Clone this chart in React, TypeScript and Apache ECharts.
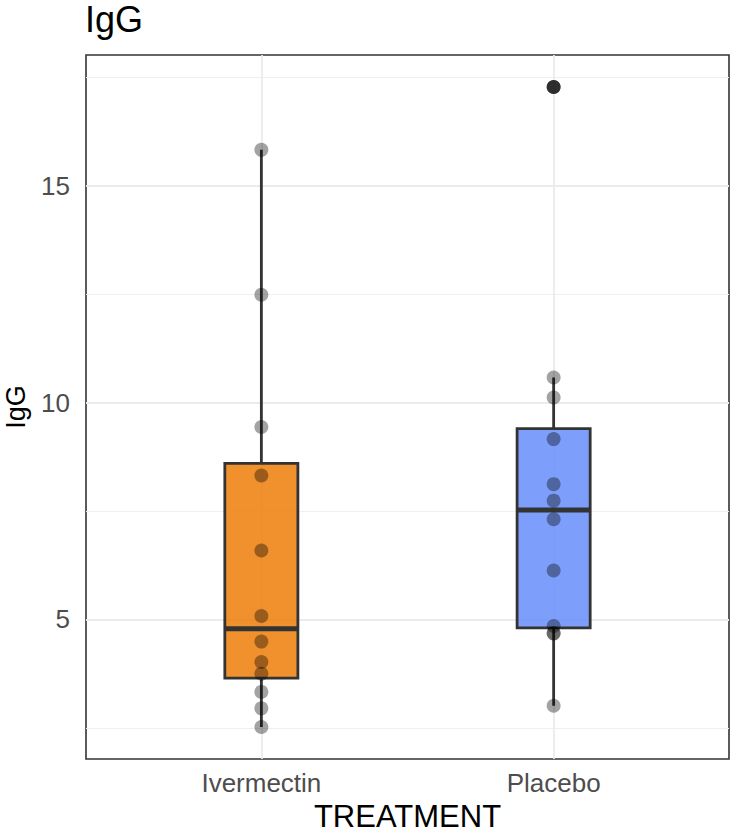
import React, { useEffect, useRef } from "react";
import * as echarts from "echarts";

const categories = ["Ivermectin", "Placebo"];
const ivermectin = [15.83, 12.49, 9.44, 8.32, 6.59, 5.08, 4.49, 4.02, 3.75, 3.33, 2.95, 2.52];
const placebo = [17.28, 10.58, 10.12, 9.16, 8.12, 7.74, 7.31, 6.13, 4.85, 4.68, 4.68, 3.01];
const majorTicks = [5, 10, 15];
const minorTicks = [2.5, 7.5, 12.5, 17.5];
const boxColors = ["rgba(238,126,8,0.85)", "rgba(102,142,250,0.85)"];

const FONT = "'Liberation Sans', Arial, Helvetica, sans-serif";

function quantile(sorted: number[], p: number) {
  const pos = (sorted.length - 1) * p;
  const lo = Math.floor(pos);
  const hi = Math.ceil(pos);
  return sorted[lo] + (sorted[hi] - sorted[lo]) * (pos - lo);
}

function boxStats(values: number[]) {
  const s = [...values].sort((a, b) => a - b);
  const q1 = quantile(s, 0.25);
  const med = quantile(s, 0.5);
  const q3 = quantile(s, 0.75);
  const iqr = q3 - q1;
  const lf = q1 - 1.5 * iqr;
  const uf = q3 + 1.5 * iqr;
  const inside = s.filter((v) => v >= lf && v <= uf);
  const outliers = s.filter((v) => v < lf || v > uf);
  return { lo: inside[0], q1, med, q3, hi: inside[inside.length - 1], outliers };
}

export default function App() {
  const ref = useRef<HTMLDivElement>(null);
  useEffect(() => {
    if (!ref.current) return;
    const chart = echarts.init(ref.current, undefined, { renderer: "svg" });
    const groups = [ivermectin, placebo];
    const stats = groups.map(boxStats);
    const all = groups.flat();
    const dMin = Math.min(...all);
    const dMax = Math.max(...all);
    const pad = (dMax - dMin) * 0.05;
    const yMin = dMin - pad;
    const yMax = dMax + pad;

    const boxData = stats.map((s, i) => [i + 1, s.lo, s.q1, s.med, s.q3, s.hi]);
    const pointData: number[][] = [];
    groups.forEach((g, i) => g.forEach((v) => pointData.push([i + 1, v])));
    const outlierData: number[][] = [];
    stats.forEach((s, i) => s.outliers.forEach((v) => outlierData.push([i + 1, v])));

    const BOX_W = 0.25;

    chart.setOption({
      animation: false,
      title: {
        text: "IgG",
        left: 85,
        top: 1,
        padding: 0,
        textStyle: { fontFamily: FONT, fontSize: 36, fontWeight: "normal", color: "#000" },
      },
      grid: {
        left: 86,
        right: 2,
        top: 55,
        bottom: 74,
        outerBoundsMode: "none",
        containLabel: false,
        show: true,
        borderColor: "#333333",
        borderWidth: 1.6,
        backgroundColor: "transparent",
      },
      xAxis: {
        type: "value",
        min: 0.4,
        max: 2.6,
        name: "TREATMENT",
        nameLocation: "middle",
        nameGap: 41,
        nameTextStyle: { fontFamily: FONT, fontSize: 31, lineHeight: 31, color: "#000" },
        axisLine: { show: false },
        axisTick: { show: false, customValues: [1, 2] },
        axisLabel: {
          customValues: [1, 2],
          formatter: (v: number) => categories[Math.round(v) - 1] ?? "",
          fontFamily: FONT,
          fontSize: 26,
          color: "#4D4D4D",
          margin: 11,
        },
        splitLine: { show: true, lineStyle: { color: "#EBEBEB", width: 1.8 } },
      },
      yAxis: [
        {
          type: "value",
          min: yMin,
          max: yMax,
          name: "IgG",
          nameLocation: "middle",
          nameGap: 57,
          nameTextStyle: { fontFamily: FONT, fontSize: 27, lineHeight: 26, color: "#000" },
          axisLine: { show: false },
          axisTick: { show: false, customValues: majorTicks },
          axisLabel: {
            customValues: majorTicks,
            fontFamily: FONT,
            fontSize: 26,
            color: "#4D4D4D",
            margin: 16,
          },
          splitLine: { show: true, lineStyle: { color: "#EBEBEB", width: 1.8 } },
        },
        {
          type: "value",
          min: yMin,
          max: yMax,
          position: "left",
          axisLine: { show: false },
          axisTick: { show: false, customValues: minorTicks },
          axisLabel: { show: false, customValues: minorTicks },
          splitLine: { show: true, lineStyle: { color: "#EFEFEF", width: 1 } },
        },
      ],
      series: [
        {
          type: "custom",
          z: 2,
          data: boxData,
          encode: { x: 0, y: [1, 2, 3, 4, 5] },
          renderItem: (params: any, api: any) => {
            const x = api.value(0);
            const pLo = api.coord([x, api.value(1)]);
            const pQ1 = api.coord([x, api.value(2)]);
            const pMed = api.coord([x, api.value(3)]);
            const pQ3 = api.coord([x, api.value(4)]);
            const pHi = api.coord([x, api.value(5)]);
            const halfW = api.size([BOX_W, 0])[0] / 2;
            const cx = pMed[0];
            const stroke = "#333333";
            return {
              type: "group",
              children: [
                {
                  type: "line",
                  shape: { x1: cx, y1: pHi[1], x2: cx, y2: pQ3[1] },
                  style: { stroke, lineWidth: 2.8 },
                },
                {
                  type: "line",
                  shape: { x1: cx, y1: pQ1[1], x2: cx, y2: pLo[1] },
                  style: { stroke, lineWidth: 2.8 },
                },
                {
                  type: "rect",
                  shape: { x: cx - halfW, y: pQ3[1], width: halfW * 2, height: pQ1[1] - pQ3[1] },
                  style: { fill: boxColors[params.dataIndex], stroke, lineWidth: 2.8 },
                },
                {
                  type: "line",
                  shape: { x1: cx - halfW, y1: pMed[1], x2: cx + halfW, y2: pMed[1] },
                  style: { stroke, lineWidth: 5 },
                },
              ],
            };
          },
        },
        {
          type: "scatter",
          z: 3,
          data: outlierData,
          symbolSize: 14,
          itemStyle: { color: "#1a1a1a" },
        },
        {
          type: "scatter",
          z: 4,
          data: pointData,
          symbolSize: 14,
          itemStyle: { color: "rgba(0,0,0,0.45)" },
        },
      ],
    });
    return () => chart.dispose();
  }, []);
  return (
    <div
      ref={ref}
      style={{ position: "fixed", left: 0, top: 0, width: 731, height: 833, background: "#fff" }}
    />
  );
}
